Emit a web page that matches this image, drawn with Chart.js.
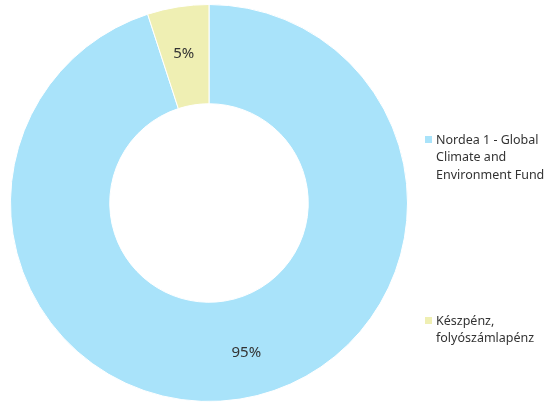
<!DOCTYPE html>
<html>
<head>
<meta charset="utf-8">
<script src="https://cdn.jsdelivr.net/npm/chart.js@4"></script>
<style>
    html, body { margin: 0; padding: 0; background: #fff; }
    #wrap { position: relative; width: 550px; height: 403px; }
</style>
</head>
<body>
<div id="wrap"><canvas id="fundChart" width="550" height="403"></canvas></div>
<script>
// Data
const categories = ['Nordea 1 - Global Climate and Environment Fund', 'Készpénz, folyószámlapénz'];
const legendLines = [['Nordea 1 - Global', 'Climate and', 'Environment Fund'], ['Készpénz,', 'folyószámlapénz']];
const values = [95, 5];
const sliceColors = ['#a9e3fa', '#efefb3'];

const FONT = "'Noto Sans', sans-serif";
// small nudges so the labels sit where the original has them
const labelNudge = [[14, 3], [-2, -2]];

// Percent labels in the middle of each slice
const sliceLabels = {
    id: 'sliceLabels',
    afterDatasetsDraw(chart) {
        const ctx = chart.ctx;
        const total = values.reduce((a, b) => a + b, 0);
        ctx.save();
        ctx.font = '15px ' + FONT;
        ctx.fillStyle = '#333';
        ctx.textAlign = 'center';
        ctx.textBaseline = 'middle';
        chart.getDatasetMeta(0).data.forEach((arc, i) => {
            const p = arc.tooltipPosition();
            ctx.fillText(Math.round(values[i] / total * 100) + '%', p.x + labelNudge[i][0], p.y + labelNudge[i][1]);
        });
        ctx.restore();
    }
};

// Legend on the right, items spread out vertically
const sideLegend = {
    id: 'sideLegend',
    afterDraw(chart) {
        const ctx = chart.ctx;
        const tops = [140, 321];
        ctx.save();
        ctx.font = '12.5px ' + FONT;
        ctx.textBaseline = 'middle';
        legendLines.forEach((lines, i) => {
            ctx.fillStyle = sliceColors[i];
            ctx.fillRect(425, tops[i] - 4, 7, 7);
            ctx.fillStyle = '#333';
            lines.forEach((line, j) => {
                ctx.fillText(line, 436, tops[i] + j * 17.5);
            });
        });
        ctx.restore();
    }
};

new Chart(document.getElementById('fundChart').getContext('2d'), {
    type: 'doughnut',
    data: {
        labels: categories,
        datasets: [{
            data: values,
            backgroundColor: sliceColors,
            borderColor: '#fff',
            borderWidth: 1
        }]
    },
    options: {
        responsive: false,
        animation: false,
        cutout: '50%',
        layout: { padding: { left: 10, top: 4, right: 142, bottom: 1 } },
        plugins: {
            legend: { display: false },
            tooltip: { enabled: false }
        }
    },
    plugins: [sliceLabels, sideLegend]
});
</script>
</body>
</html>
